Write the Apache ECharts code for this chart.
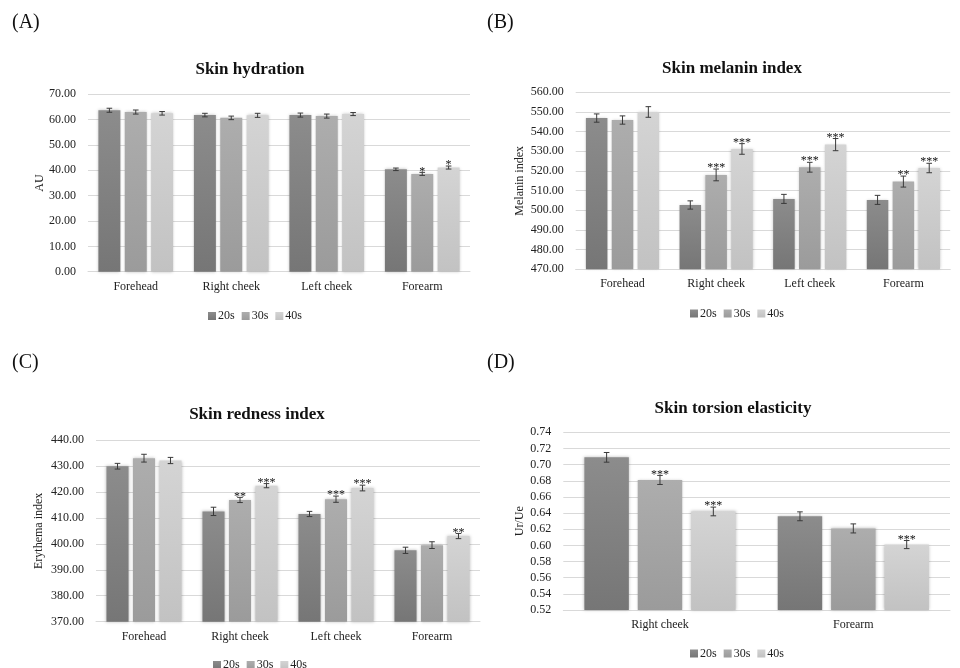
<!DOCTYPE html>
<html><head><meta charset="utf-8">
<script src="https://cdn.jsdelivr.net/npm/echarts@6/dist/echarts.min.js"></script>
<style>html,body{margin:0;padding:0;background:#fff}#c{width:960px;height:668px}</style>
</head><body><div id="c"></div>
<script>
// ---------- data ----------
const groups = ['20s', '30s', '40s'];
const sites4 = ['Forehead', 'Right cheek', 'Left cheek', 'Forearm'];
const sites2 = ['Right cheek', 'Forearm'];

// (A) Skin hydration (AU)
const hydration20 = [63.7, 61.8, 61.8, 40.4];
const hydration30 = [63.0, 60.7, 61.4, 38.6];
const hydration40 = [62.5, 61.7, 62.2, 41.1];
const hydrationErr20 = [0.8, 0.7, 0.8, 0.5];
const hydrationErr30 = [0.8, 0.7, 0.8, 0.6];
const hydrationErr40 = [0.7, 0.8, 0.6, 0.6];
const hydrationSig20 = ['', '', '', ''];
const hydrationSig30 = ['', '', '', '*'];
const hydrationSig40 = ['', '', '', '*'];

// (B) Skin melanin index
const melanin20 = [546.9, 502.7, 505.8, 505.3];
const melanin30 = [545.9, 518.0, 521.9, 514.6];
const melanin40 = [550.0, 531.2, 533.4, 521.5];
const melaninErr20 = [2.1, 2.1, 2.3, 2.3];
const melaninErr30 = [2.1, 3.0, 2.5, 2.8];
const melaninErr40 = [2.7, 2.7, 3.1, 2.4];
const melaninSig20 = ['', '', '', ''];
const melaninSig30 = ['', '***', '***', '**'];
const melaninSig40 = ['', '***', '***', '***'];

// (C) Skin redness index
const redness20 = [429.9, 412.5, 411.5, 397.5];
const redness30 = [433.0, 416.9, 417.2, 399.5];
const redness40 = [432.1, 422.4, 421.5, 403.0];
const rednessErr20 = [1.1, 1.6, 1.0, 1.2];
const rednessErr30 = [1.5, 1.0, 1.2, 1.3];
const rednessErr40 = [1.2, 0.8, 1.1, 1.0];
const rednessSig20 = ['', '', '', ''];
const rednessSig30 = ['', '**', '***', ''];
const rednessSig40 = ['', '***', '***', '**'];

// (D) Skin torsion elasticity (Ur/Ue)
const torsion20 = [0.709, 0.636];
const torsion30 = [0.681, 0.621];
const torsion40 = [0.642, 0.601];
const torsionErr20 = [0.006, 0.0055];
const torsionErr30 = [0.0056, 0.0056];
const torsionErr40 = [0.0054, 0.005];
const torsionSig20 = ['', ''];
const torsionSig30 = ['***', ''];
const torsionSig40 = ['***', '***'];

// axis ticks
const axisA = {min: 0, max: 70, interval: 10, digits: 2};
const axisB = {min: 470, max: 560, interval: 10, digits: 2};
const axisC = {min: 370, max: 440, interval: 10, digits: 2};
const axisD = {min: 0.52, max: 0.74, interval: 0.02, digits: 2};

// ---------- styling / build ----------
const FONT = '"Liberation Serif", "Times New Roman", serif';
const barColors = [
  ['#8c8c8c', '#767676'],
  ['#adadad', '#9b9b9b'],
  ['#d4d4d4', '#c2c2c2']
];
const BAR_W = 0.23, BAR_GAP = 0.2;

const panels = [
  {tag: '(A)', title: 'Skin hydration', yname: 'AU', cats: sites4, axis: axisA,
   vals: [hydration20, hydration30, hydration40], errs: [hydrationErr20, hydrationErr30, hydrationErr40],
   sigs: [hydrationSig20, hydrationSig30, hydrationSig40],
   grid: {left: 88, top: 94.3, width: 382, height: 177.4},
   tagPos: [12, 22.5], titlePos: [250, 70], legendY: 312, legendX: 252, ynameX: 40},
  {tag: '(B)', title: 'Skin melanin index', yname: 'Melanin index', cats: sites4, axis: axisB,
   vals: [melanin20, melanin30, melanin40], errs: [melaninErr20, melaninErr30, melaninErr40],
   sigs: [melaninSig20, melaninSig30, melaninSig40],
   grid: {left: 575.7, top: 92.3, width: 374.5, height: 177},
   tagPos: [487, 22.5], titlePos: [732, 68.5], legendY: 309.5, legendX: 734, ynameX: 520},
  {tag: '(C)', title: 'Skin redness index', yname: 'Erythema index', cats: sites4, axis: axisC,
   vals: [redness20, redness30, redness40], errs: [rednessErr20, rednessErr30, rednessErr40],
   sigs: [rednessSig20, rednessSig30, rednessSig40],
   grid: {left: 96, top: 440, width: 384, height: 181.7},
   tagPos: [12, 362.5], titlePos: [257, 414.5], legendY: 661, legendX: 257, ynameX: 39},
  {tag: '(D)', title: 'Skin torsion elasticity', yname: 'Ur/Ue', cats: sites2, axis: axisD,
   vals: [torsion20, torsion30, torsion40], errs: [torsionErr20, torsionErr30, torsionErr40],
   sigs: [torsionSig20, torsionSig30, torsionSig40],
   grid: {left: 563.3, top: 432.3, width: 386.7, height: 177.7},
   tagPos: [487, 362.5], titlePos: [733, 408.5], legendY: 649.5, legendX: 734, ynameX: 520}
];

const option = {
  animation: false,
  backgroundColor: '#fff',
  textStyle: {fontFamily: FONT},
  grid: [], xAxis: [], yAxis: [], series: [], legend: [], graphic: []
};

panels.forEach((p, pi) => {
  option.grid.push(Object.assign({containLabel: false}, p.grid));
  option.xAxis.push({
    type: 'category', gridIndex: pi, data: p.cats,
    axisLine: {show: true, lineStyle: {color: '#d9d9d9', width: 1}},
    axisTick: {show: false},
    axisLabel: {color: '#222', fontFamily: FONT, fontSize: 12, margin: 9},
    splitLine: {show: false}
  });
  option.yAxis.push({
    type: 'value', gridIndex: pi, min: p.axis.min, max: p.axis.max, interval: p.axis.interval,
    axisLine: {show: false}, axisTick: {show: false},
    axisLabel: {color: '#222', fontFamily: FONT, fontSize: 12, margin: 12,
      formatter: v => v.toFixed(p.axis.digits)},
    splitLine: {lineStyle: {color: '#d9d9d9', width: 1}}
  });
  option.legend.push({
    data: groups, left: p.legendX - 49, top: p.legendY - 7, itemWidth: 8, itemHeight: 8, itemGap: 7,
    icon: 'rect', textStyle: {fontFamily: FONT, fontSize: 12, color: '#222', padding: [0, 0, 0, -3]},
    selectedMode: false
  });
  option.graphic.push({
    type: 'text', x: p.tagPos[0], y: p.tagPos[1],
    style: {text: p.tag, fontFamily: FONT, fontSize: 20, fill: '#111', align: 'left', verticalAlign: 'middle'}
  });
  option.graphic.push({
    type: 'text', x: p.titlePos[0], y: p.titlePos[1],
    style: {text: p.title, fontFamily: FONT, fontSize: 17, fontWeight: 'bold', fill: '#111', align: 'center', verticalAlign: 'middle'}
  });
  option.graphic.push({
    type: 'text', x: p.ynameX, y: p.grid.top + p.grid.height / 2, rotation: Math.PI / 2,
    style: {text: p.yname, fontFamily: FONT, fontSize: 12, fill: '#222', align: 'center', verticalAlign: 'middle'}
  });

  groups.forEach((g, gi) => {
    option.series.push({
      name: g, type: 'bar', xAxisIndex: pi, yAxisIndex: pi,
      data: p.vals[gi], barWidth: (BAR_W * 100) + '%', barGap: (BAR_GAP * 100) + '%',
      itemStyle: {
        color: {type: 'linear', x: 0, y: 0, x2: 0, y2: 1,
          colorStops: [{offset: 0, color: barColors[gi][0]}, {offset: 1, color: barColors[gi][1]}]},
        shadowBlur: 3, shadowColor: 'rgba(0,0,0,0.25)', shadowOffsetX: 0, shadowOffsetY: 0
      },
      emphasis: {disabled: true}
    });
  });

  // error bars + significance marks
  const ebData = [];
  p.cats.forEach((c, ci) => {
    groups.forEach((g, gi) => {
      ebData.push([ci, p.vals[gi][ci], p.errs[gi][ci], gi, p.sigs[gi][ci]]);
    });
  });
  option.series.push({
    type: 'custom', xAxisIndex: pi, yAxisIndex: pi, data: ebData, z: 5, clip: false,
    encode: {x: 0, y: 1}, silent: true,
    renderItem: (params, api) => {
      const ci = api.value(0), v = api.value(1), e = api.value(2), gi = api.value(3);
      const sig = ebData[params.dataIndex][4];
      const band = api.size([1, 0])[0];
      const w = band * BAR_W;
      const cx = api.coord([ci, v])[0] + (gi - 1) * w * (1 + BAR_GAP);
      const yTop = api.coord([ci, v + e])[1];
      const yBot = api.coord([ci, v - e])[1];
      const cap = 2.8;
      const st = {stroke: '#3a3a3a', lineWidth: 1};
      const children = [
        {type: 'line', shape: {x1: cx, y1: yTop, x2: cx, y2: yBot}, style: st},
        {type: 'line', shape: {x1: cx - cap, y1: yTop, x2: cx + cap, y2: yTop}, style: st},
        {type: 'line', shape: {x1: cx - cap, y1: yBot, x2: cx + cap, y2: yBot}, style: st}
      ];
      if (sig) {
        children.push({type: 'text', x: cx, y: yTop + 5,
          style: {text: sig, fontFamily: FONT, fontSize: 12, fill: '#111', align: 'center', verticalAlign: 'bottom'}});
      }
      return {type: 'group', children};
    }
  });
});

const chart = echarts.init(document.getElementById('c'), null, {renderer: 'canvas'});
chart.setOption(option);
</script></body></html>
